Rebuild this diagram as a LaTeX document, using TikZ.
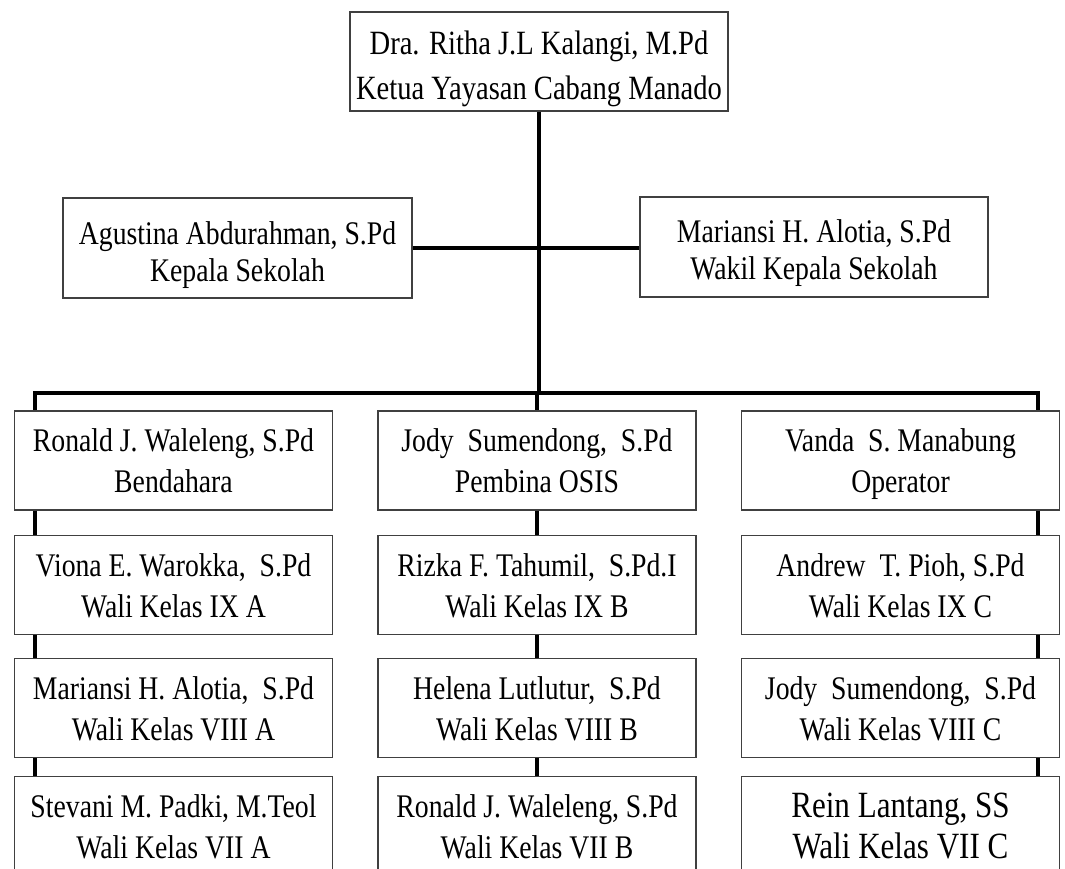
\documentclass[tikz,border=0pt]{standalone}
\usepackage{fontspec}
\setmainfont[FakeStretch=0.84]{Liberation Serif}

\begin{document}
\begin{tikzpicture}[x=1pt,y=1pt,lines/.style n args={3}{font=\fontsize{#1}{#2}\selectfont,text height=#3,text depth=0pt},box/.style={draw=black!75,line width=1.1pt,fill=white,align=center,shape=rectangle,inner sep=0pt,minimum height=99pt,lines={33}{41}{65pt}},col/.style={box,minimum width=318pt},link/.style={line width=3.4pt}]
\useasboundingbox (0,0) rectangle (1065,869);
\clip (0,0) rectangle (1065,869);
\node[box,minimum width=378pt,lines={34}{45}{77pt}] (ketua) at (539,807.5) {Dra. Ritha J.L Kalangi, M.Pd\\Ketua Yayasan Cabang Manado};
\node[box,minimum width=349pt,minimum height=100pt,lines={33}{37}{68pt}] (kepsek) at (237.5,621) {Agustina Abdurahman, S.Pd\\Kepala Sekolah};
\node[box,minimum width=348pt,minimum height=100pt,lines={33}{37}{66pt}] (wakasek) at (814,622) {Mariansi H. Alotia, S.Pd\\Wakil Kepala Sekolah};
% kolom kiri
\node[col] (bend) at (173.5,408.5) {Ronald J. Waleleng, S.Pd\\Bendahara};
\node[col] (ixa) at (173.5,284) {Viona E. Warokka,~ S.Pd\\Wali Kelas IX A};
\node[col] (viiia) at (173.5,161) {Mariansi H. Alotia,~ S.Pd\\Wali Kelas VIII A};
\node[col] (viia) at (173.5,43) {Stevani M. Padki, M.Teol\\Wali Kelas VII A};
% kolom tengah
\node[col] (osis) at (537,408.5) {Jody~ Sumendong,~ S.Pd\\Pembina OSIS};
\node[col] (ixb) at (537,284) {Rizka F. Tahumil,~ S.Pd.I\\Wali Kelas IX B};
\node[col] (viiib) at (537,161) {Helena Lutlutur,~ S.Pd\\Wali Kelas VIII B};
\node[col] (viib) at (537,43) {Ronald J. Waleleng, S.Pd\\Wali Kelas VII B};
% kolom kanan
\node[col] (oper) at (900.5,408.5) {Vanda~ S. Manabung\\Operator};
\node[col] (ixc) at (900.5,284) {Andrew~ T. Pioh, S.Pd\\Wali Kelas IX C};
\node[col] (viiic) at (900.5,161) {Jody~ Sumendong,~ S.Pd\\Wali Kelas VIII C};
\node[col,lines={37}{41}{65pt}] (viic) at (900.5,43) {Rein Lantang, SS\\Wali Kelas VII C};
\coordinate (busL) at (35,476);
\coordinate (busM) at (537,476);
\coordinate (busR) at (1038,476);
\draw[link] (ketua.south) -- (ketua.south |- busM);
\draw[link] (kepsek.east) -- (wakasek.west |- kepsek.east);
\draw[link,line cap=rect] (busL) -- (busR);
\draw[link] (busL) -- (busL |- bend.north);
\draw[link] (busL |- bend.south) -- (busL |- ixa.north);
\draw[link] (busL |- ixa.south) -- (busL |- viiia.north);
\draw[link] (busL |- viiia.south) -- (busL |- viia.north);
\draw[link] (busM) -- (osis.north);
\draw[link] (osis.south) -- (ixb.north);
\draw[link] (ixb.south) -- (viiib.north);
\draw[link] (viiib.south) -- (viib.north);
\draw[link] (busR) -- (busR |- oper.north);
\draw[link] (busR |- oper.south) -- (busR |- ixc.north);
\draw[link] (busR |- ixc.south) -- (busR |- viiic.north);
\draw[link] (busR |- viiic.south) -- (busR |- viic.north);
\end{tikzpicture}
\end{document}
